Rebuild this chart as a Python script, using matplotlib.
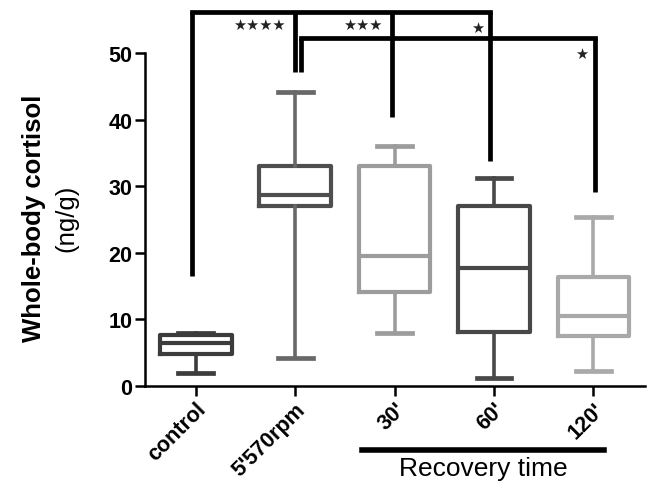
import matplotlib.pyplot as plt
import matplotlib.transforms as mtransforms

plt.rcParams["font.family"] = ["Liberation Sans", "DejaVu Sans"]

GROUPS = ["control", "5'570rpm", "30'", "60'", "120'"]
WHISKER_LOW = [2.0, 4.2, 8.0, 1.2, 2.3]
Q1 = [4.8, 27.0, 14.1, 8.1, 7.5]
MEDIAN = [6.4, 28.7, 19.5, 17.7, 10.5]
Q3 = [7.6, 33.0, 33.0, 27.1, 16.3]
WHISKER_HIGH = [8.0, 44.1, 36.1, 31.2, 25.3]
BOX_COLORS = ["#3c3c3c", "#4e4e4e", "#9c9c9c", "#484848", "#a9a9a9"]
WHISKER_COLORS = ["#3c3c3c", "#686868", "#9c9c9c", "#484848", "#a9a9a9"]

# significance brackets: leg x positions, leg bottoms, bar height
TOP_BRACKET_X = [-0.04, 0.995, 1.97, 2.96]
TOP_BRACKET_LOW = [16.5, 47.1, 40.4, 33.8]
TOP_BRACKET_Y = 56.2
SECOND_BRACKET_X = [1.055, 4.02]
SECOND_BRACKET_LOW = [47.1, 29.1]
SECOND_BRACKET_Y = 52.2
STARS = ["★★★★", "★★★", "★", "★"]
STAR_X = [0.9, 1.88, 2.9, 3.95]
STAR_Y = [54.3, 54.3, 53.9, 50.0]

fig = plt.figure(figsize=(6.48, 4.89), dpi=100)
ax = fig.add_axes([0.2238, 0.2086, 0.7716, 0.681])

stats = []
for i, name in enumerate(GROUPS):
    stats.append({
        "label": name,
        "whislo": WHISKER_LOW[i],
        "q1": Q1[i],
        "med": MEDIAN[i],
        "q3": Q3[i],
        "whishi": WHISKER_HIGH[i],
        "fliers": [],
    })

for i, st in enumerate(stats):
    c = BOX_COLORS[i]
    wc = WHISKER_COLORS[i]
    ax.bxp([st], positions=[i], widths=0.72, showfliers=False,
           boxprops=dict(color=c, linewidth=3.0),
           whiskerprops=dict(color=wc, linewidth=2.6),
           capprops=dict(color=wc, linewidth=3.4),
           medianprops=dict(color=c, linewidth=3.0),
           capwidths=0.35)


def bracket(xs, lows, top):
    ax.plot([xs[0], xs[-1]], [top, top], color="black", lw=3.4,
            solid_capstyle="projecting", clip_on=False, zorder=5)
    for x, lo in zip(xs, lows):
        ax.plot([x, x], [lo, top], color="black", lw=3.4,
                solid_capstyle="butt", clip_on=False, zorder=5)


bracket(TOP_BRACKET_X, TOP_BRACKET_LOW, TOP_BRACKET_Y)
bracket(SECOND_BRACKET_X, SECOND_BRACKET_LOW, SECOND_BRACKET_Y)

for s, x, y in zip(STARS, STAR_X, STAR_Y):
    ax.text(x, y, s, ha="right", va="center", fontsize=10.5,
            family="DejaVu Sans", color="#222222", clip_on=False)

ax.set_xlim(-0.51, 4.52)
ax.set_ylim(0, 50)
ax.set_yticks([0, 10, 20, 30, 40, 50])
ax.set_xticks(range(len(GROUPS)))
ax.set_xticklabels(GROUPS, rotation=45, ha="right", rotation_mode="anchor",
                   fontsize=15.5, fontweight="bold")
for lbl in ax.get_yticklabels():
    lbl.set_fontsize(15.5)
    lbl.set_fontweight("bold")

ax.spines["top"].set_visible(False)
ax.spines["right"].set_visible(False)
ax.spines["left"].set_linewidth(1.8)
ax.spines["bottom"].set_linewidth(1.8)
ax.tick_params(axis="both", width=1.8, length=7, pad=2, colors="black")

fig.text(0.052, 0.554, "Whole-body cortisol", rotation=90, ha="center",
         va="center", fontsize=18.5, fontweight="bold")
fig.text(0.103, 0.554, "(ng/g)", rotation=90, ha="center", va="center",
         fontsize=18.5)

# recovery-time underline below the rotated labels
trans = mtransforms.blended_transform_factory(ax.transData, ax.transAxes)
ax.plot([1.67, 4.11], [-0.192, -0.192], color="black", lw=4,
        transform=trans, clip_on=False)
ax.text(2.89, -0.245, "Recovery time", transform=trans, ha="center",
        va="center", fontsize=19)

fig.savefig("out.png", dpi=100)
